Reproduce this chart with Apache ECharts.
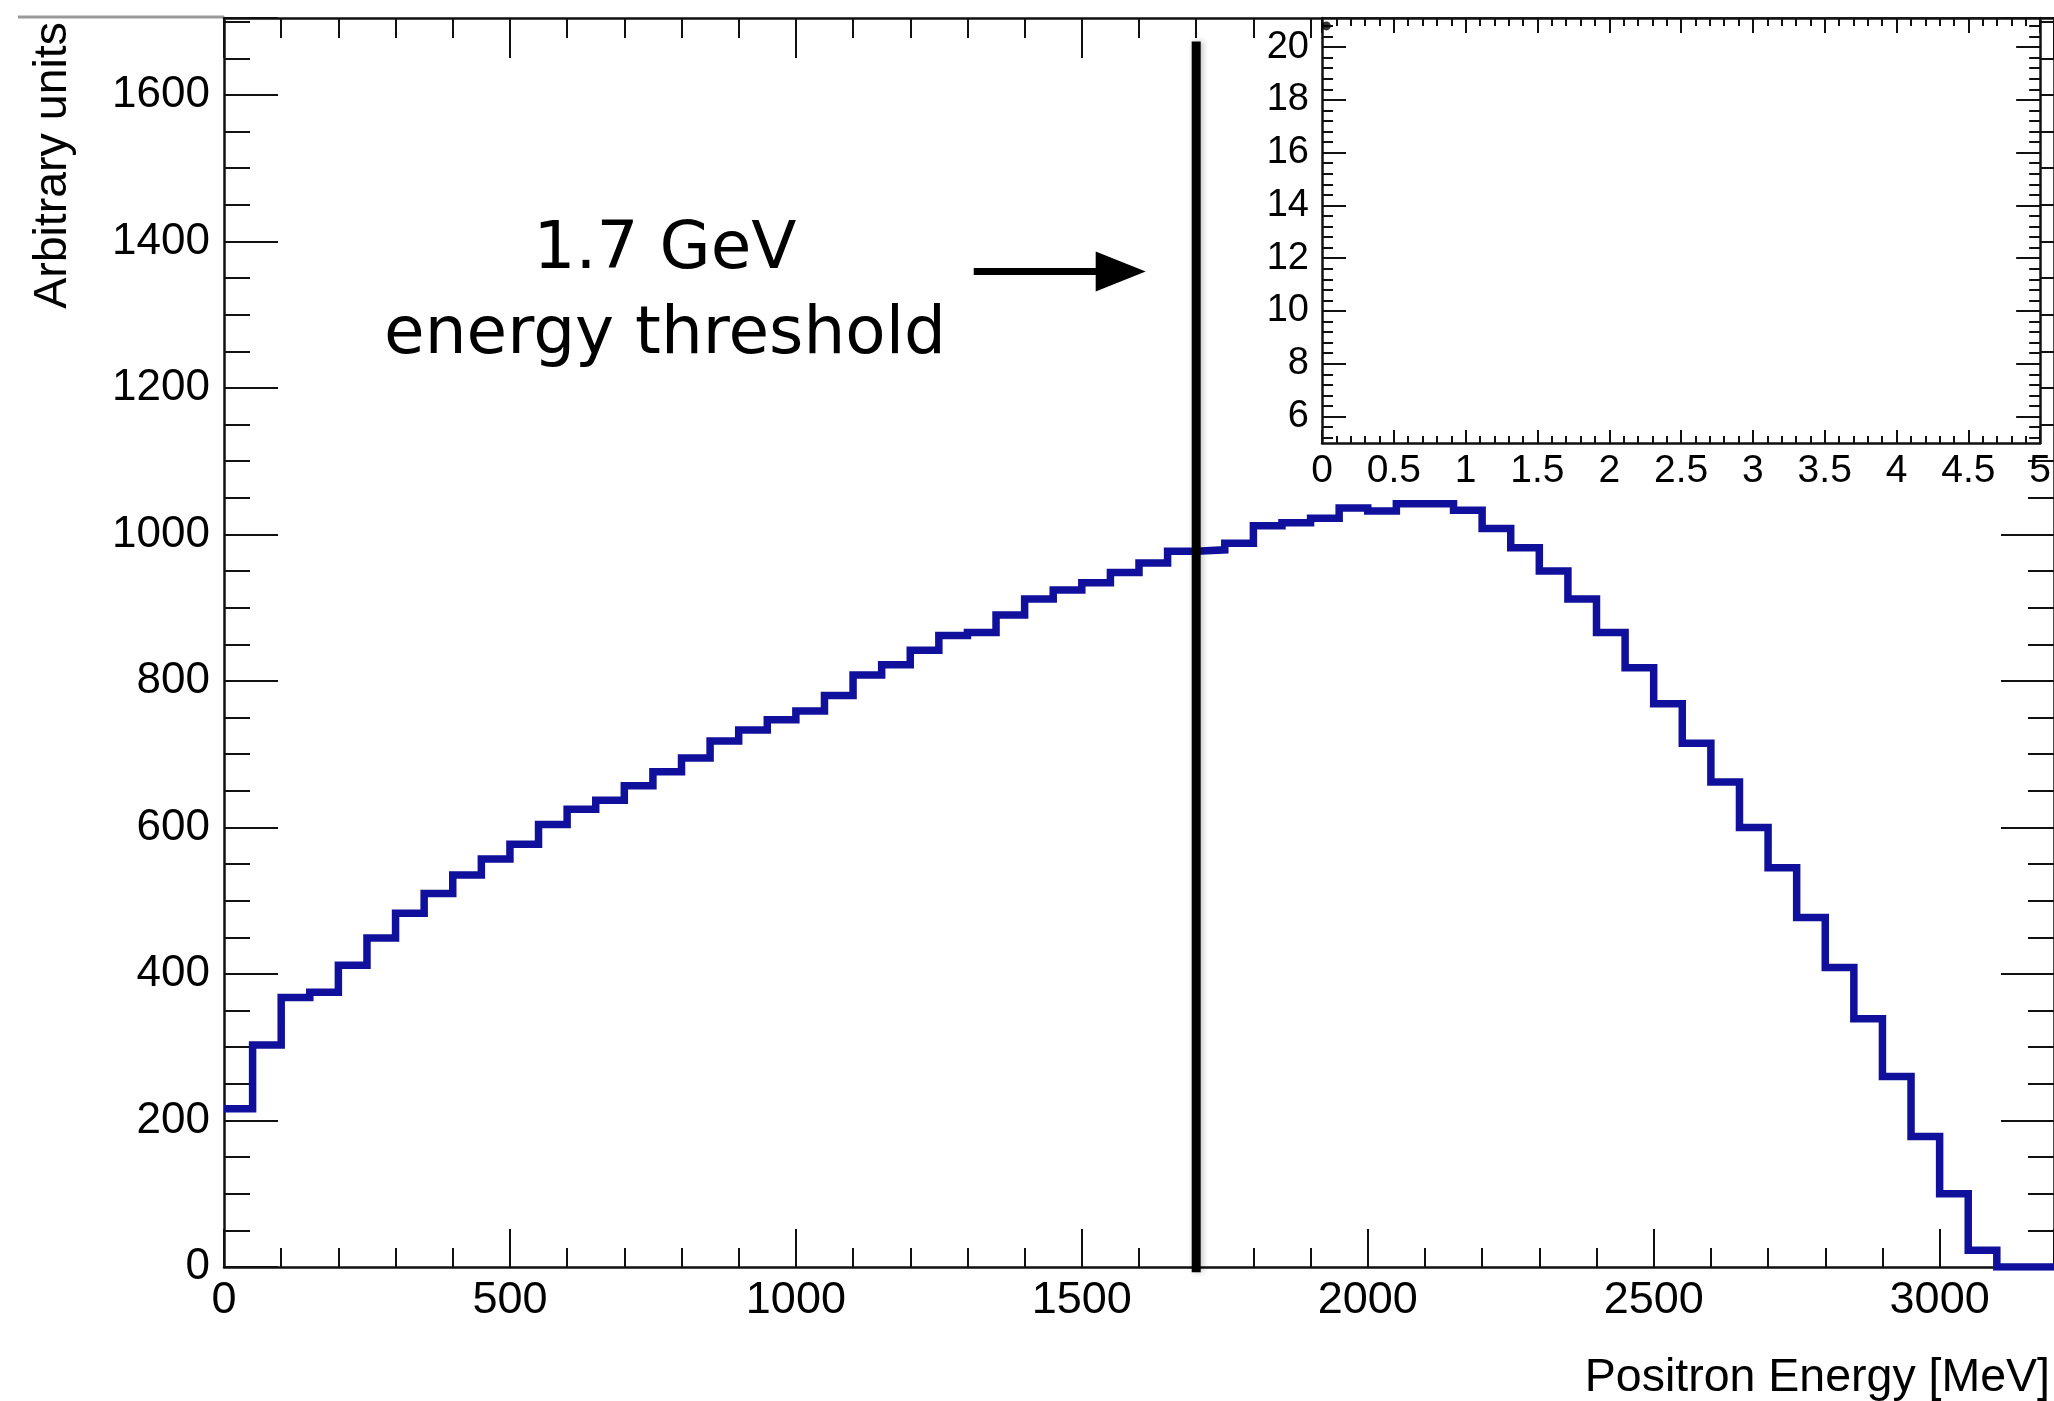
<!DOCTYPE html>
<html><head><meta charset="utf-8">
<script src="https://cdn.jsdelivr.net/npm/echarts@6/dist/echarts.min.js"></script>
<style>html,body{margin:0;padding:0;background:#fff}#c{width:2054px;height:1401px}</style>
</head><body><div id="c"></div>
<script>
// ---- data ----
const binStarts = [0,50,100,150,200,250,300,350,400,450,500,550,600,650,700,750,
  800,850,900,950,1000,1050,1100,1150,1200,1250,1300,1350,1400,1450,1500,1550,
  1600,1650,1700,1750,1800,1850,1900,1950,2000,2050,2100,2150,2200,2250,2300,2350,
  2400,2450,2500,2550,2600,2650,2700,2750,2800,2850,2900,2950,3000,3050,3100,3150];
const histEnd = 3200;
const counts = [216,303,368,375,412,449,483,510,535,557,577,604,625,637,657,676,
  695,718,733,747,759,780,808,822,842,862,866,890,912,924,934,948,
  961,977,979,988,1012,1016,1022,1036,1032,1042,1042,1033,1008,982,950,912,
  866,818,769,715,662,600,545,477,409,339,260,178,100,23,0,0];
const xTicks = [0,500,1000,1500,2000,2500,3000];
const yTicks = [0,200,400,600,800,1000,1200,1400,1600];
const insetXTicks = [0,0.5,1,1.5,2,2.5,3,3.5,4,4.5,5];
const insetYTicks = [6,8,10,12,14,16,18,20];
const insetYMinor = [5.2,5.6,6.4,6.8,7.2,7.6,8.4,8.8,9.2,9.6,10.4,10.8,11.2,11.6,12.4,12.8,
  13.2,13.6,14.4,14.8,15.2,15.6,16.4,16.8,17.2,17.6,18.4,18.8,19.2,19.6,20.4,20.8];
const insetPoints = [[0.03, 20.8]];
const threshold = 1700;
const thresholdSpan = [-7, 1673];
const arrowFrom = [1311, 1359];
const arrowTo = [1568, 1359];
const annotLines = ['1.7 GeV', 'energy threshold'];
const xTitle = 'Positron Energy [MeV]';
const yTitle = 'Arbitrary units';

// ---- build ----
const histData = binStarts.map((x, i) => [x, counts[i]]).concat([[histEnd, counts[counts.length - 1]]]);
const AX = '#111';
const FONT = 'Liberation Sans, Arial, sans-serif';

function mainAxisX(pos, tickLen, minorLen, showLabel) {
  return {
    type: 'value', gridIndex: 0, position: pos, min: 0, max: 3200, interval: 500,
    axisLine: { show: true, onZero: false, lineStyle: { color: AX, width: 2.5 } },
    axisTick: { show: true, inside: true, length: tickLen, lineStyle: { color: AX, width: 2 } },
    minorTick: { show: true, splitNumber: 5, length: minorLen, lineStyle: { color: AX, width: 2 } },
    splitLine: { show: false }, minorSplitLine: { show: false },
    axisLabel: { show: showLabel, fontSize: 45, color: '#000', fontFamily: FONT, margin: 11,
      showMaxLabel: false, formatter: v => xTicks.includes(v) ? String(v) : '' }
  };
}
function mainAxisY(pos, tickLen, minorLen, showLabel) {
  return {
    type: 'value', gridIndex: 0, position: pos, min: 0, max: 1705, interval: 200,
    axisLine: { show: true, onZero: false, lineStyle: { color: AX, width: 2.5 } },
    axisTick: { show: true, inside: true, length: tickLen, lineStyle: { color: AX, width: 2 } },
    minorTick: { show: true, splitNumber: 4, length: minorLen, lineStyle: { color: AX, width: 2 } },
    splitLine: { show: false }, minorSplitLine: { show: false },
    axisLabel: { show: showLabel, fontSize: 44, color: '#000', fontFamily: FONT, margin: 14,
      showMaxLabel: false, formatter: v => yTicks.includes(v) ? String(v) : '' }
  };
}
function insetAxisX(pos, tickLen, minorLen, showLabel) {
  return {
    type: 'value', gridIndex: 1, position: pos, min: 0, max: 5, interval: 0.5, z: 6,
    axisLine: { show: true, onZero: false, lineStyle: { color: AX, width: 2.5 } },
    axisTick: { show: true, inside: true, length: tickLen, lineStyle: { color: AX, width: 2 } },
    minorTick: { show: true, splitNumber: 5, length: minorLen, lineStyle: { color: AX, width: 2 } },
    splitLine: { show: false },
    axisLabel: { show: showLabel, fontSize: 39, color: '#000', fontFamily: FONT, margin: 9,
      formatter: v => insetXTicks.includes(v) ? String(v) : '' }
  };
}
function insetAxisY(pos, vals, tickLen, showLabel, showLine) {
  return {
    type: 'value', gridIndex: 1, position: pos, min: 5, max: 21.1, z: 6,
    axisLine: { show: showLine, onZero: false, lineStyle: { color: AX, width: 2.5 } },
    axisTick: { show: true, inside: true, length: tickLen, customValues: vals, lineStyle: { color: AX, width: 2 } },
    minorTick: { show: false },
    splitLine: { show: false },
    axisLabel: { show: showLabel, customValues: insetYTicks, fontSize: 38, color: '#000', fontFamily: FONT, margin: 13 }
  };
}

const chart = echarts.init(document.getElementById('c'), null, { renderer: 'canvas' });
chart.setOption({
  animation: false,
  backgroundColor: '#fff',
  grid: [
    { left: 224, right: -2, top: 18, bottom: 134, containLabel: false },
    { left: 1322, right: -2, top: 18, bottom: 958, containLabel: false, show: true,
      backgroundColor: '#fff', borderWidth: 0, z: 5 }
  ],
  xAxis: [
    mainAxisX('bottom', 38, 19, true),
    mainAxisX('top', 40, 20, false),
    insetAxisX('bottom', 13, 7, true),
    insetAxisX('top', 15, 8, false)
  ],
  yAxis: [
    mainAxisY('left', 54, 26, true),
    mainAxisY('right', 53, 26, false),
    insetAxisY('left', insetYTicks, 24, true, true),
    insetAxisY('left', insetYMinor, 11, false, false),
    insetAxisY('right', insetYTicks, 24, false, true),
    insetAxisY('right', insetYMinor, 11, false, false)
  ],
  series: [
    {
      name: 'spectrum', type: 'line', xAxisIndex: 0, yAxisIndex: 0,
      data: histData, step: 'end', showSymbol: false, symbol: 'none', z: 2,
      lineStyle: { color: '#10109c', width: 7.5, join: 'miter' }
    },
    {
      name: 'threshold', type: 'line', xAxisIndex: 0, yAxisIndex: 0, clip: false, z: 4,
      data: [[threshold, thresholdSpan[0]], [threshold, thresholdSpan[1]]],
      showSymbol: false, symbol: 'none',
      lineStyle: { color: '#000', width: 9, cap: 'butt', shadowColor: 'rgba(0,0,0,0.25)', shadowBlur: 6, shadowOffsetX: 2 },
      markLine: {
        silent: true, animation: false,
        symbol: ['none', 'triangle'], symbolSize: [40, 50],
        label: { show: false },
        lineStyle: { color: '#000', width: 7, type: 'solid' },
        emphasis: { disabled: true },
        data: [[{ coord: arrowFrom }, { coord: arrowTo }]]
      }
    },
    {
      name: 'inset', type: 'scatter', xAxisIndex: 2, yAxisIndex: 2, z: 7, clip: false,
      data: insetPoints, symbolSize: 9, itemStyle: { color: '#000' }
    }
  ],
  graphic: [
    { type: 'line', shape: { x1: 18, y1: 17, x2: 224, y2: 17 }, style: { stroke: '#9a9a9a', lineWidth: 3 } },
    { type: 'text', x: 665, y: 251, style: { text: annotLines[0], font: '66px "DejaVu Sans"', fill: '#000', align: 'center', verticalAlign: 'middle' } },
    { type: 'text', x: 665, y: 336, style: { text: annotLines[1], font: '66px "DejaVu Sans"', fill: '#000', align: 'center', verticalAlign: 'middle' } },
    { type: 'text', x: 2050, y: 1378, style: { text: xTitle, font: '46.5px "Liberation Sans"', fill: '#000', align: 'right', verticalAlign: 'middle' } },
    { type: 'text', x: 53, y: 22, rotation: Math.PI / 2, style: { text: yTitle, font: '46.5px "Liberation Sans"', fill: '#000', align: 'right', verticalAlign: 'middle' } }
  ]
});
</script></body></html>
